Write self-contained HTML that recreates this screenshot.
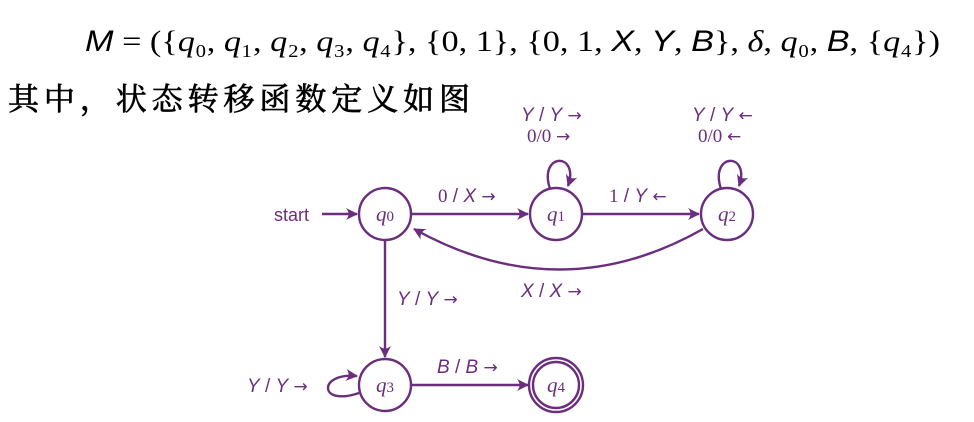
<!DOCTYPE html>
<html><head><meta charset="utf-8"><style>
html,body{margin:0;padding:0;background:#fff;width:974px;height:422px;overflow:hidden}
svg{display:block}
.m{font-family:"Liberation Sans",sans-serif;fill:#6b2d7e}
.i{font-style:italic}
.ar{font-family:"DejaVu Sans",sans-serif;font-size:17px;font-style:normal}
</style></head><body>
<svg width="974" height="422" viewBox="0 0 974 422" xmlns="http://www.w3.org/2000/svg">
<defs>
<marker id="a" markerWidth="14" markerHeight="14" refX="11" refY="6" orient="auto" markerUnits="userSpaceOnUse">
<path d="M0,0 Q5,6 0,12 L12,6 Z" fill="#6b2d7e"/>
</marker>
</defs>
<text x="85" y="51" font-family="Liberation Serif,serif" font-size="30" fill="#000" textLength="855" lengthAdjust="spacingAndGlyphs"><tspan font-style="italic" font-family="Liberation Sans,sans-serif">M</tspan> = ({<tspan font-style="italic">q</tspan>₀, <tspan font-style="italic">q</tspan>₁, <tspan font-style="italic">q</tspan>₂, <tspan font-style="italic">q</tspan>₃, <tspan font-style="italic">q</tspan>₄}, {0, 1}, {0, 1, <tspan font-style="italic" font-family="Liberation Sans,sans-serif">X</tspan>, <tspan font-style="italic" font-family="Liberation Sans,sans-serif">Y</tspan>, <tspan font-style="italic" font-family="Liberation Sans,sans-serif">B</tspan>}, <tspan font-style="italic">δ</tspan>, <tspan font-style="italic">q</tspan>₀, <tspan font-style="italic" font-family="Liberation Sans,sans-serif">B</tspan>, {<tspan font-style="italic">q</tspan>₄})</text>
<text x="8" y="110" font-family="'Noto Serif CJK SC','Noto Sans CJK SC',serif" font-size="31" fill="#000" stroke="#000" stroke-width="0.7" textLength="462" lengthAdjust="spacing">其中，状态转移函数定义如图</text>

<g stroke="#6b2d7e" stroke-width="2.4" fill="none">
<circle cx="385" cy="214" r="26"/>
<circle cx="556" cy="214" r="26"/>
<circle cx="727" cy="214" r="26"/>
<circle cx="385" cy="385" r="26"/>
<circle cx="556" cy="385" r="27"/>
<circle cx="556" cy="385" r="23"/>
<line x1="322" y1="214" x2="357" y2="214" marker-end="url(#a)"/>
<line x1="411" y1="214" x2="528" y2="214" marker-end="url(#a)"/>
<line x1="582" y1="214" x2="699" y2="214" marker-end="url(#a)"/>
<line x1="385" y1="240" x2="385" y2="357" marker-end="url(#a)"/>
<line x1="411" y1="385" x2="528" y2="385" marker-end="url(#a)"/>
<path d="M703,229 Q560,310 414,229" marker-end="url(#a)"/>
<path d="M550,189 C538,152 580,152 568,186" marker-end="url(#a)"/>
<path d="M721,189 C709,152 751,152 739,186" marker-end="url(#a)"/>
<path d="M359,393 C318,407 318,372 357,376" marker-end="url(#a)"/>
</g>

<g class="m" font-size="19">
<text x="274" y="221" font-size="18">start</text>
<text x="385" y="221" text-anchor="middle" class="i" font-family="Liberation Serif,serif" font-size="21">q<tspan font-size="15" font-style="normal">0</tspan></text>
<text x="556" y="221" text-anchor="middle" class="i" font-family="Liberation Serif,serif" font-size="21">q<tspan font-size="15" font-style="normal">1</tspan></text>
<text x="727" y="221" text-anchor="middle" class="i" font-family="Liberation Serif,serif" font-size="21">q<tspan font-size="15" font-style="normal">2</tspan></text>
<text x="385" y="392" text-anchor="middle" class="i" font-family="Liberation Serif,serif" font-size="21">q<tspan font-size="15" font-style="normal">3</tspan></text>
<text x="556" y="392" text-anchor="middle" class="i" font-family="Liberation Serif,serif" font-size="21">q<tspan font-size="15" font-style="normal">4</tspan></text>
<text x="438" y="202"><tspan font-family="Liberation Serif,serif">0</tspan> / <tspan class="i">X</tspan> <tspan class="ar">→</tspan></text>
<text x="609" y="202"><tspan font-family="Liberation Serif,serif">1</tspan> / <tspan class="i">Y</tspan> <tspan class="ar">←</tspan></text>
<text x="521" y="121"><tspan class="i">Y</tspan> / <tspan class="i">Y</tspan> <tspan class="ar">→</tspan></text>
<text x="527" y="142" font-family="Liberation Serif,serif">0/0 <tspan class="ar">→</tspan></text>
<text x="692" y="121"><tspan class="i">Y</tspan> / <tspan class="i">Y</tspan> <tspan class="ar">←</tspan></text>
<text x="698" y="142" font-family="Liberation Serif,serif">0/0 <tspan class="ar">←</tspan></text>
<text x="521" y="297"><tspan class="i">X</tspan> / <tspan class="i">X</tspan> <tspan class="ar">→</tspan></text>
<text x="397" y="305"><tspan class="i">Y</tspan> / <tspan class="i">Y</tspan> <tspan class="ar">→</tspan></text>
<text x="437" y="373"><tspan class="i">B</tspan> / <tspan class="i">B</tspan> <tspan class="ar">→</tspan></text>
<text x="247" y="392"><tspan class="i">Y</tspan> / <tspan class="i">Y</tspan> <tspan class="ar">→</tspan></text>
</g>
</svg>
</body></html>
